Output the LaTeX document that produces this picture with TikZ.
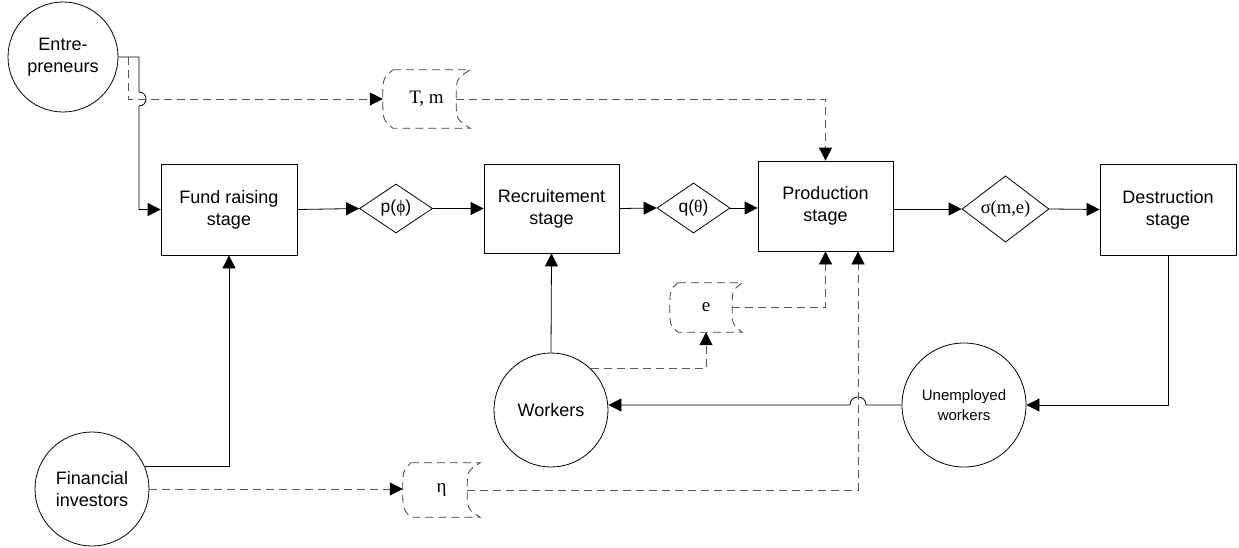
\documentclass[tikz,border=0pt]{standalone}
\usepackage{fontspec}
\setmainfont{Liberation Serif}
\newfontfamily\arialf{Liberation Sans}
\usetikzlibrary{arrows.meta,calc,shapes.geometric}
\tikzset{
  every node/.style={inner sep=0pt},
  stagebox/.style={draw, line width=0.8pt, minimum width=136pt, minimum height=91pt,
    align=center, font=\arialf\fontsize{18}{22}\selectfont},
  agent/.style={draw, circle, line width=0.8pt, minimum size=#1, align=center,
    font=\arialf\fontsize{18}{22}\selectfont},
  decision/.style={draw, diamond, line width=0.8pt, font=\fontsize{18.5}{21}\selectfont},
  store/.style={font=\fontsize{19}{21}\selectfont},
  flow/.style={line width=0.8pt, draw=black, -{Triangle[length=13pt,width=13pt,color=black]}},
  info/.style={flow, draw=black!65, dash pattern=on 8pt off 5pt},
  storeline/.style={line width=0.8pt, draw=black!75, dash pattern=on 8pt off 5pt},
}
% stored-data outline: #1 node, #2 left offset, #3 right offset
\newcommand\storeshape[3]{%
  \draw[storeline]
    ($(#1.north west)+(#2,0)$) -- (#1.north east)
    .. controls ($(#1.north east)!0.15!(#1.south east)+(-#3,0)$) .. ($(#1.east)+(-#3,0)$)
    .. controls ($(#1.south east)!0.15!(#1.north east)+(-#3,0)$) .. (#1.south east)
    -- ($(#1.south west)+(#2,0)$)
    .. controls ($(#1.south west)!0.15!(#1.north west)$) .. (#1.west)
    .. controls ($(#1.north west)!0.15!(#1.south west)$) .. ($(#1.north west)+(#2,0)$);
}
\begin{document}
\begin{tikzpicture}[x=1pt,y=-1pt]
\useasboundingbox (0,0) rectangle (1239,547);

% stages
\node[stagebox] (fund) at (229,209.5) {Fund raising\\stage};
\node[stagebox, minimum width=135pt, minimum height=89pt] (rec) at (551.5,208.5) {Recruitement\\stage};
\node[stagebox, minimum width=135pt, minimum height=90pt] (prod) at (825.5,206) {Production\\stage};
\node[stagebox] (dest) at (1168,209.5) {Destruction\\stage};

% decisions
\node[decision, minimum width=73pt, minimum height=49pt] (pphi) at (396,208.5)
  {\arialf\fontsize{17.5}{21}\selectfont p(\rmfamily ϕ\arialf)};
\node[decision, minimum width=73pt, minimum height=50pt] (qth) at (693.5,208)
  {\arialf\fontsize{17.5}{21}\selectfont q(\rmfamily θ\arialf)};
\node[decision, minimum width=87pt, minimum height=52pt] (sig) at (1005.5,209) {σ(m,e)};

% agents
\node[agent=110pt] (ent) at (63,57) {Entre-\\preneurs};
\node[agent=114pt] (fin) at (92,489) {Financial\\investors};
\node[agent=114pt] (wrk) at (551,410) {Workers};
\node[agent=124pt, font=\arialf\fontsize{15}{20}\selectfont] (unemp) at (964,405) {Unemployed\\workers};

% stored data
\node[store, minimum width=87pt, minimum height=58pt] (tm) at (426.5,99) {T, m};
\node[store, minimum width=72pt, minimum height=49pt] (evar) at (706,307.5) {e};
\node[store, minimum width=77pt, minimum height=54pt] (eta) at (441.5,490) {η};
\storeshape{tm}{10}{14}
\storeshape{evar}{8}{10}
\storeshape{eta}{8}{13}

% main flow
\draw[flow] (fund.east) -- (pphi.west);
\draw[flow] (pphi.east) -- (rec.west);
\draw[flow] (rec.east) -- (qth.west);
\draw[flow] (qth.east) -- (qth.east -| prod.west);
\draw[flow] (sig.west -| prod.east) -- (sig.west);
\draw[flow] (sig.east) -- (dest.west);
\draw[flow] (dest.south) |- (unemp.east);
\draw[flow] (unemp.west) -- (866,405) .. controls (866,394.3) and (850,394.3) .. (850,405)
  -- (unemp.west -| wrk.east);
\draw[flow] (wrk.north) -- (rec.south);
\draw[flow] (fin.23) -| (fund.south);

% entrepreneurs
\coordinate (ej) at (139,57);
\coordinate (ed) at (128,57);
\draw[flow] (ent.east) -- (ej) -- (139,92) .. controls (148.3,92) and (148.3,106) .. (139,106)
  -- (ej |- fund.west) -- (fund.west);
\draw[info] (ed) |- (tm.west);

% information flows
\draw[info] ($(tm.east)+(-14,0)$) -| (prod.north);
\draw[info] ($(evar.east)+(-10,0)$) -| (prod.south);
\draw[info] (wrk.46) -| (evar.south);
\draw[info] (fin.east) -- (fin.east -| eta.west);
\draw[info] ($(eta.east)+(-13,0)$) -| ($(prod.south)+(32.5,0)$);
\end{tikzpicture}
\end{document}
